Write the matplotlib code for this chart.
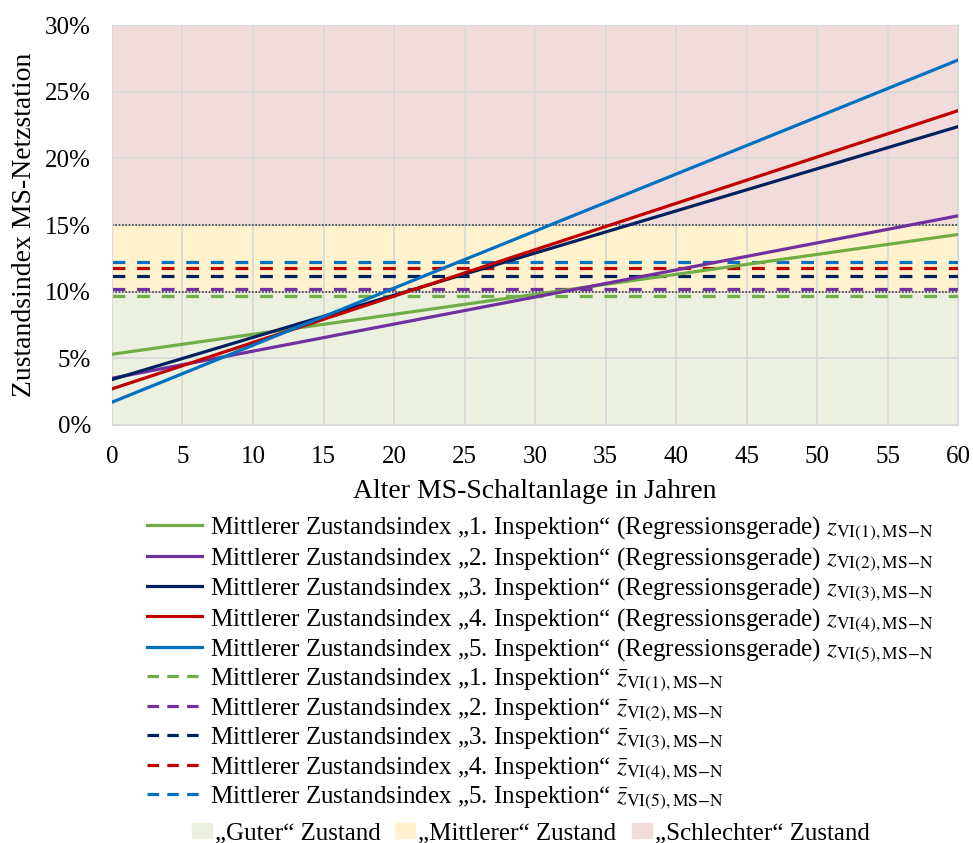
import matplotlib
matplotlib.use("Agg")
import matplotlib.pyplot as plt
from matplotlib.lines import Line2D
from matplotlib.patches import Patch

plt.rcParams["font.family"] = ["Liberation Serif", "DejaVu Serif"]
plt.rcParams["mathtext.fontset"] = "stix"

# Data
years = [0, 60]
inspections = ["1", "2", "3", "4", "5"]
regression_start = [5.3, 3.5, 3.4, 2.7, 1.7]   # % at age 0
regression_end = [14.3, 15.7, 22.4, 23.6, 27.4]  # % at age 60
mean_index = [9.7, 10.2, 11.15, 11.8, 12.25]    # % horizontal means
zone_bounds = [0, 10, 15, 30]
zone_labels = ["„Guter“ Zustand", "„Mittlerer“ Zustand", "„Schlechter“ Zustand"]

colors = ["#70ad47", "#7030a0", "#002060", "#c00000", "#0070c0"]
zone_colors = ["#ebf1de", "#fff2cc", "#f2dcdb"]

fig = plt.figure(figsize=(9.73, 8.43), dpi=100)
ax = fig.add_axes([0.115, 0.496, 0.870, 0.474])

for lo, hi, c in zip(zone_bounds[:-1], zone_bounds[1:], zone_colors):
    ax.axhspan(lo, hi, color=c, zorder=0, lw=0)
for b in [10, 15]:
    ax.axhline(b, color="#404040", lw=1.2, ls=(0, (1, 1)), zorder=1)

ax.set_xticks(range(0, 61, 5))
ax.set_yticks(range(0, 31, 5))
ax.grid(True, color="#d9d9d9", lw=1.3, zorder=0.5)
ax.set_axisbelow(True)

for i, c in enumerate(colors):
    ax.plot(years, [regression_start[i], regression_end[i]], color=c, lw=2.3, zorder=3)
for i, c in enumerate(colors):
    ax.plot(years, [mean_index[i], mean_index[i]], color=c, lw=2.3,
            ls=(0, (4, 3.7)), zorder=2)

ax.set_xlim(0, 60)
ax.set_ylim(0, 30)
ax.set_yticklabels([f"{v}%" for v in range(0, 31, 5)])
ax.tick_params(labelsize=18, length=0, pad=15)
for s in ax.spines.values():
    s.set_color("#d9d9d9")
ax.set_xlabel("Alter MS-Schaltanlage in Jahren", fontsize=20, labelpad=8)
ax.set_ylabel("Zustandsindex MS-Netzstation", fontsize=20, labelpad=6)

handles = []
for c in colors:
    handles.append(Line2D([], [], color=c, lw=2.3))
labels = [f"Mittlerer Zustandsindex „{n}. Inspektion“ (Regressionsgerade) "
          rf"$z_{{\mathrm{{VI({n}),MS{{-}}N}}}}$" for n in inspections]
for c in colors:
    handles.append(Line2D([], [], color=c, lw=2.3, ls=(0, (3.6, 2.6))))
labels += [f"Mittlerer Zustandsindex „{n}. Inspektion“ "
           rf"$\bar{{z}}_{{\mathrm{{VI({n}),MS{{-}}N}}}}$" for n in inspections]

fig.legend(handles, labels, loc="upper left", bbox_to_anchor=(0.151, 0.390),
           frameon=False, fontsize=18, handlelength=2.2, handletextpad=0.32,
           labelspacing=0.1, borderpad=0, borderaxespad=0)

patches = [Patch(color=c) for c in zone_colors]
fig.legend(patches, zone_labels, loc="upper left", bbox_to_anchor=(0.197, 0.024),
           frameon=False, fontsize=18, ncol=3, handlelength=0.8, handleheight=0.55,
           handletextpad=0.12, columnspacing=0.6, borderpad=0, borderaxespad=0)

fig.savefig("out.png", dpi=100)
